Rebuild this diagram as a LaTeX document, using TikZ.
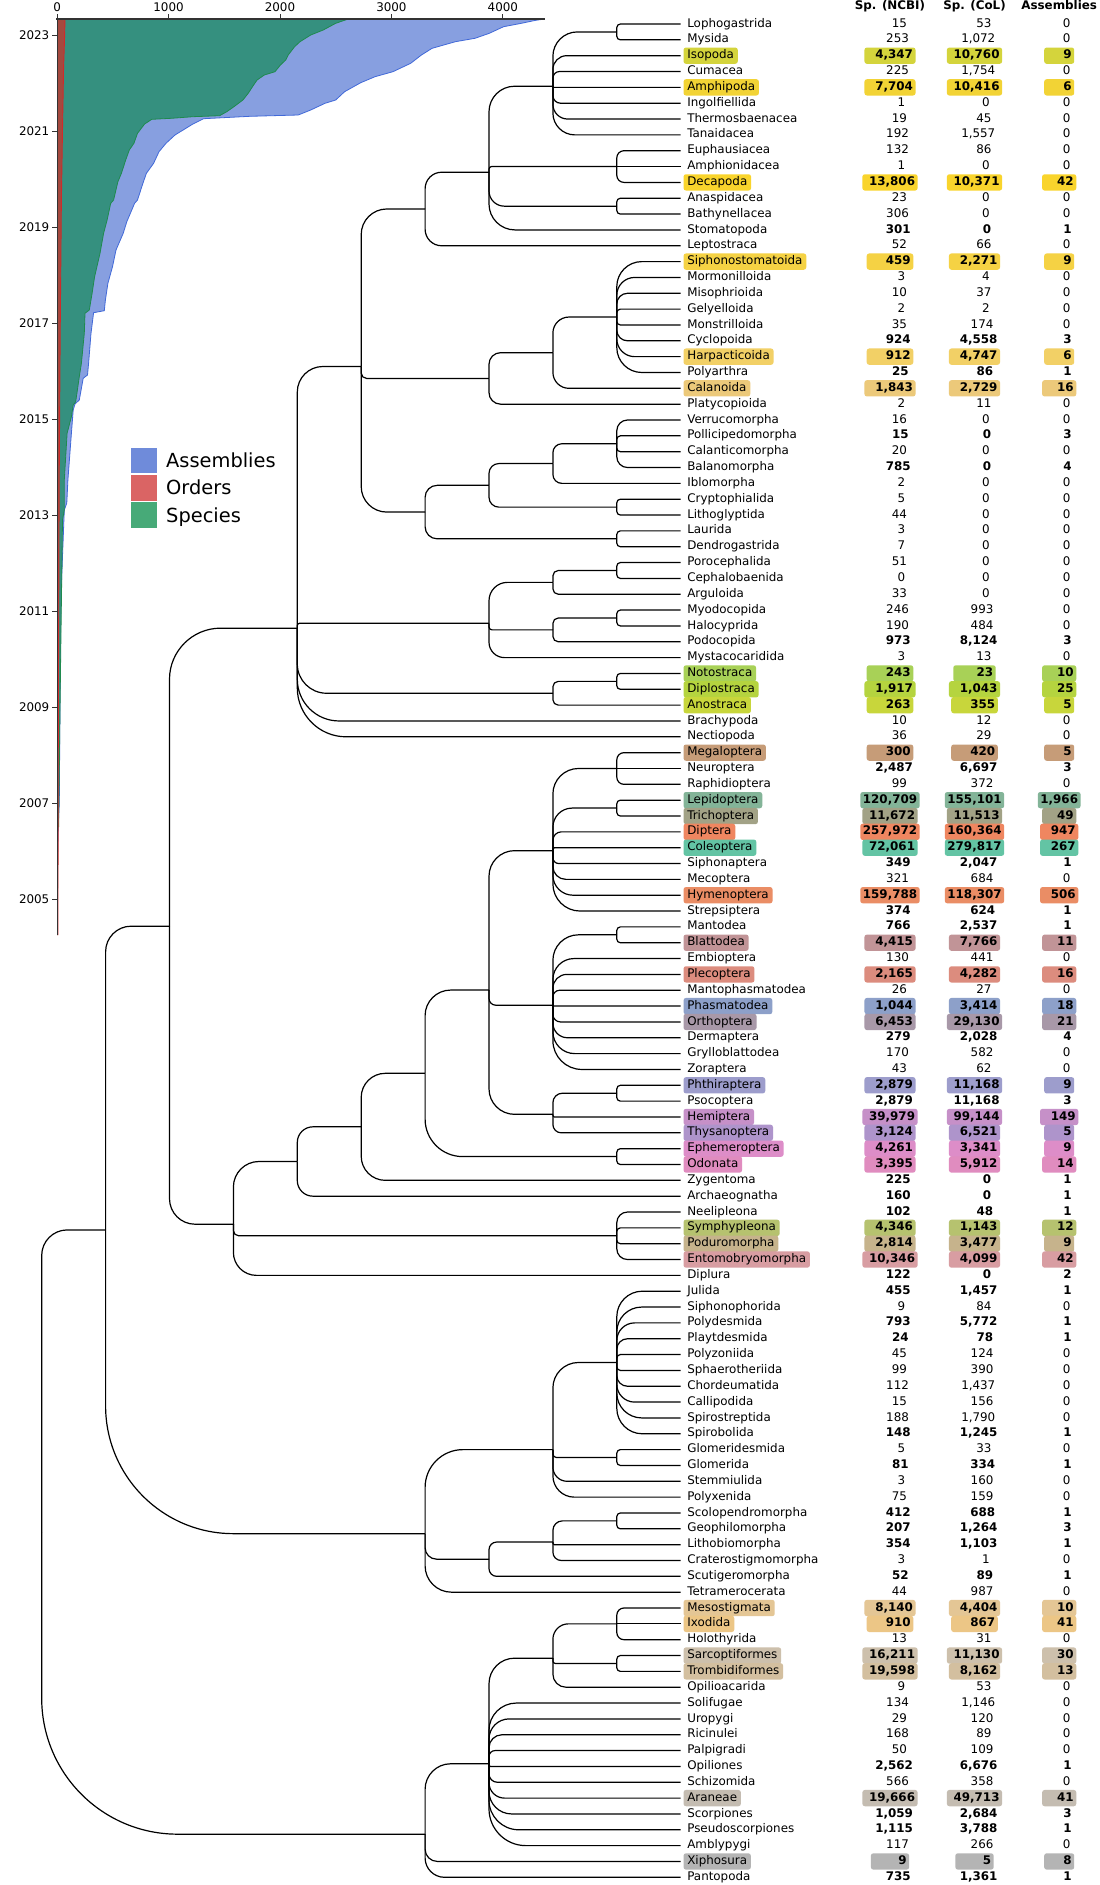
\documentclass[tikz,border=0pt]{standalone}
\usepackage{fontspec}
\setmainfont{DejaVu Sans}
\usetikzlibrary{calc}

\definecolor{blueA}{HTML}{879FE0}
\definecolor{blueE}{HTML}{4169D8}
\definecolor{greenA}{HTML}{35907F}
\definecolor{greenE}{HTML}{1F8A4E}
\definecolor{redA}{HTML}{A4493F}
\definecolor{redE}{HTML}{D02A2A}
\definecolor{legB}{HTML}{6F8BDA}
\definecolor{legR}{HTML}{DA6464}
\definecolor{legG}{HTML}{47AA78}
\definecolor{axc}{HTML}{333333}

\definecolor{cIso}{HTML}{D4D43C}
\definecolor{cAmph}{HTML}{F2D335}
\definecolor{cDeca}{HTML}{F9D42C}
\definecolor{cSiph}{HTML}{F5D244}
\definecolor{cHarp}{HTML}{F2D066}
\definecolor{cCal}{HTML}{ECC97A}
\definecolor{cNoto}{HTML}{A8D157}
\definecolor{cDipl}{HTML}{B5D43F}
\definecolor{cAnos}{HTML}{C8D63B}
\definecolor{cMega}{HTML}{C69C78}
\definecolor{cLepi}{HTML}{83B498}
\definecolor{cTric}{HTML}{A2A286}
\definecolor{cDipt}{HTML}{EF8660}
\definecolor{cCole}{HTML}{63C4A4}
\definecolor{cHyme}{HTML}{EA8D65}
\definecolor{cBlat}{HTML}{C19497}
\definecolor{cPlec}{HTML}{DC8C7E}
\definecolor{cPhas}{HTML}{8DA0C9}
\definecolor{cOrth}{HTML}{A898A8}
\definecolor{cPhth}{HTML}{9D9DCC}
\definecolor{cHemi}{HTML}{C690C8}
\definecolor{cThys}{HTML}{AE94CB}
\definecolor{cEphe}{HTML}{DD8DC8}
\definecolor{cOdon}{HTML}{E08CBF}
\definecolor{cSymp}{HTML}{B6C26F}
\definecolor{cPodu}{HTML}{C6B38C}
\definecolor{cEnto}{HTML}{D89DA2}
\definecolor{cMeso}{HTML}{E4C695}
\definecolor{cIxod}{HTML}{ECC686}
\definecolor{cSarc}{HTML}{CDC0AC}
\definecolor{cTrom}{HTML}{D3BF9F}
\definecolor{cAran}{HTML}{C4BCB1}
\definecolor{cXiph}{HTML}{B4B4B4}

\newcommand\tabfont{\fontsize{11.9pt}{14pt}\selectfont}
\newcommand\legfont{\fontsize{19.4pt}{23pt}\selectfont}

\newcount\chcnt
\def\countto#1{\chcnt=0 \countloop#1\relax}
\def\countloop#1{\ifx#1\relax\else\advance\chcnt by 1 \expandafter\countloop\fi}
\newcommand\padded[2]{\countto{#2}\chcnt=\numexpr#1-\chcnt\relax\loop\ifnum\chcnt>0 \ \advance\chcnt by -1 \repeat#2}

\tikzset{
  tree/.style={line width=1.2pt, black},
  nm/.style={anchor=west, inner xsep=3.8pt, inner ysep=2.15pt, text height=9.1pt, text depth=2.9pt, font=\tabfont},
  nb/.style={anchor=center, inner xsep=2.6pt, inner ysep=2.15pt, text height=9.1pt, text depth=2.9pt, font=\tabfont},
  hl/.style={fill=#1, rounded corners=2.5pt},
  tick/.style={line width=0.9pt, axc},
  ticklbl/.style={font=\tabfont, inner sep=0pt, text height=8.7pt, text depth=0pt},
  leglbl/.style={font=\legfont, anchor=west, inner sep=0pt, text height=14.2pt, text depth=0pt}
}

\newcommand\RY[1]{24+15.84*(#1-1)}
\newcommand\rp[5]{%
  \node[nm] (nm#1) at (683.3,{\RY{#1}}) {#2};
  \node[nb] (nc#1) at (890,{\RY{#1}}) {\padded{7}{#3}};
  \node[nb] (co#1) at (974.5,{\RY{#1}}) {\padded{7}{#4}};
  \node[nb] (as#1) at (1059.2,{\RY{#1}}) {\padded{5}{#5}};
  \coordinate (L#1) at (680.5,{\RY{#1}});}
\newcommand\rb[5]{%
  \node[nm] (nm#1) at (683.3,{\RY{#1}}) {#2};
  \node[nb,font=\tabfont\bfseries] (nc#1) at (890,{\RY{#1}}) {\padded{7}{#3}};
  \node[nb,font=\tabfont\bfseries] (co#1) at (974.5,{\RY{#1}}) {\padded{7}{#4}};
  \node[nb,font=\tabfont\bfseries] (as#1) at (1059.2,{\RY{#1}}) {\padded{5}{#5}};
  \coordinate (L#1) at (680.5,{\RY{#1}});}
\newcommand\rh[6]{%
  \node[nm,hl=#2] (nm#1) at (683.3,{\RY{#1}}) {#3};
  \node[nb,hl=#2,font=\tabfont\bfseries] (nc#1) at (890,{\RY{#1}}) {\padded{7}{#4}};
  \node[nb,hl=#2,font=\tabfont\bfseries] (co#1) at (974.5,{\RY{#1}}) {\padded{7}{#5}};
  \node[nb,hl=#2,font=\tabfont\bfseries] (as#1) at (1059.2,{\RY{#1}}) {\padded{5}{#6}};
  \coordinate (L#1) at (680.5,{\RY{#1}});}

\newcommand\inode[3]{\coordinate (#1) at ({41.7+63.9*#2},{\RY{#3}});}
\newcommand\edge[2]{\draw[tree] let \p1=(#1), \p2=(#2),
  \n1={min(0.45*abs(\y2-\y1),0.4*abs(\x2-\x1))} in
  [rounded corners=\n1] (\p1) |- (\p2);}
\newcommand\E[2]{\foreach \ch in {#2}{\edge{#1}{\ch}}}

\begin{document}
\begin{tikzpicture}[x=1pt,y=-1pt]
\useasboundingbox (0,0) rectangle (1100,1885);
\fill[white] (0,0) rectangle (1100,1885);

% ---------- chart ----------
\fill[blueA] (57.1,19) -- (544.6,19) -- (535.7,20.3) -- (521.4,23.3) -- (503.6,26.7) -- (489.3,33.3) -- (475,38.3) -- (455.4,41.7) -- (432.1,48.3) -- (421.4,55) -- (410.7,63.3) -- (392.9,71.7) -- (375,76.7) -- (360.7,82.7) -- (344.6,91.7) -- (335.7,100) -- (325,103.3) -- (310.7,110) -- (298.2,115) -- (250,116.3) -- (203.6,118.7) -- (192.9,124) -- (175,135) -- (166,143.3) -- (159,151.7) -- (153.6,163.3) -- (146.4,173.3) -- (142.9,183.3) -- (137.5,200) -- (134.6,203.3) -- (126.8,221.7) -- (123.2,233.3) -- (116,250) -- (112.5,266.7) -- (107.9,283.3) -- (105.4,300) -- (104.3,310.7) -- (93.6,312.7) -- (91,333.3) -- (88.6,363.3) -- (87.5,375) -- (83.2,378.3) -- (79.3,400) -- (75,404) -- (73.2,410) -- (71.4,433.3) -- (67.9,480) -- (66.8,503) -- (64.3,510) -- (60.7,603) -- (60,703) -- (59.3,803) -- (58.2,827) -- (57.4,860) -- (57.1,935) -- cycle;
\draw[blueE, line width=0.8pt] (544.6,19) -- (535.7,20.3) -- (521.4,23.3) -- (503.6,26.7) -- (489.3,33.3) -- (475,38.3) -- (455.4,41.7) -- (432.1,48.3) -- (421.4,55) -- (410.7,63.3) -- (392.9,71.7) -- (375,76.7) -- (360.7,82.7) -- (344.6,91.7) -- (335.7,100) -- (325,103.3) -- (310.7,110) -- (298.2,115) -- (250,116.3) -- (203.6,118.7) -- (192.9,124) -- (175,135) -- (166,143.3) -- (159,151.7) -- (153.6,163.3) -- (146.4,173.3) -- (142.9,183.3) -- (137.5,200) -- (134.6,203.3) -- (126.8,221.7) -- (123.2,233.3) -- (116,250) -- (112.5,266.7) -- (107.9,283.3) -- (105.4,300) -- (104.3,310.7) -- (93.6,312.7) -- (91,333.3) -- (88.6,363.3) -- (87.5,375) -- (83.2,378.3) -- (79.3,400) -- (75,404) -- (73.2,410) -- (71.4,433.3) -- (67.9,480) -- (66.8,503) -- (64.3,510) -- (60.7,603) -- (60,703) -- (59.3,803) -- (58.2,827) -- (57.4,860);

\fill[greenA] (57.1,19) -- (348.2,19) -- (335.7,23.3) -- (323.2,30) -- (310.7,35) -- (300,41.7) -- (294.6,46.7) -- (288.2,55) -- (285.7,60) -- (280.4,65) -- (275,71.7) -- (264.3,75) -- (257.1,80) -- (253.6,85) -- (248.2,93.3) -- (242.9,100) -- (233.9,106.7) -- (226.8,111.7) -- (219.6,115.7) -- (192.9,116.7) -- (171.4,118.3) -- (151.8,119.3) -- (144.6,124) -- (137.5,133.3) -- (133.9,143.3) -- (129.3,150) -- (125.7,160) -- (121.4,173.3) -- (117.9,181.7) -- (113.6,200) -- (110.7,203.3) -- (107.1,220) -- (103.6,233.3) -- (100,253.3) -- (94.6,276.7) -- (92.1,293.3) -- (89.3,310) -- (85,313.3) -- (84.3,333.3) -- (81.4,363.3) -- (79.3,376.7) -- (75.7,401.7) -- (73.2,405) -- (71.4,416.7) -- (67.1,433.3) -- (64.3,480) -- (64.3,510) -- (62.5,520) -- (60.5,670) -- (58.6,827) -- (57.1,840) -- cycle;
\draw[greenE, line width=0.8pt] (348.2,19) -- (335.7,23.3) -- (323.2,30) -- (310.7,35) -- (300,41.7) -- (294.6,46.7) -- (288.2,55) -- (285.7,60) -- (280.4,65) -- (275,71.7) -- (264.3,75) -- (257.1,80) -- (253.6,85) -- (248.2,93.3) -- (242.9,100) -- (233.9,106.7) -- (226.8,111.7) -- (219.6,115.7) -- (192.9,116.7) -- (171.4,118.3) -- (151.8,119.3) -- (144.6,124) -- (137.5,133.3) -- (133.9,143.3) -- (129.3,150) -- (125.7,160) -- (121.4,173.3) -- (117.9,181.7) -- (113.6,200) -- (110.7,203.3) -- (107.1,220) -- (103.6,233.3) -- (100,253.3) -- (94.6,276.7) -- (92.1,293.3) -- (89.3,310) -- (85,313.3) -- (84.3,333.3) -- (81.4,363.3) -- (79.3,376.7) -- (75.7,401.7) -- (73.2,405) -- (71.4,416.7) -- (67.1,433.3) -- (64.3,480) -- (64.3,510) -- (62.5,520) -- (60.5,670) -- (58.6,827);

\fill[redA] (57.1,19) -- (65,19) -- (64.5,40) -- (63.6,67) -- (62.5,130) -- (61.4,200) -- (60.2,333) -- (59.2,480) -- (58.4,700) -- (57.9,935) -- (57.1,935) -- cycle;
\draw[redE, line width=0.9pt] (65,19) -- (64.5,40) -- (63.6,67) -- (62.5,130) -- (61.4,200) -- (60.2,333) -- (59.2,480) -- (58.4,700) -- (57.9,935);

% axes
\draw[axc, line width=1pt] (57.1,19) -- (57.1,935);
\draw[axc, line width=1.6pt] (56.3,19) -- (545,19);
\foreach \v in {0,1000,2000,3000,4000}{
  \draw[tick] ({57.1+0.11143*\v},19) -- ({57.1+0.11143*\v},14);
  \node[ticklbl, anchor=base] (xt\v) at ({57.1+0.11143*\v},11.6) {\v};
}
\foreach \yr in {2005,2007,...,2023}{
  \draw[tick] (57.1,{35+(2023-\yr)*48}) -- (52,{35+(2023-\yr)*48});
  \node[ticklbl, anchor=east] (yt\yr) at (49.5,{35+(2023-\yr)*48}) {\yr};
}

% legend
\fill[legB] (131.4,447.7) rectangle (157.1,473.3);
\fill[legR] (131.4,475) rectangle (157.1,500.7);
\fill[legG] (131.4,502.3) rectangle (157.1,528);
\node[leglbl] (lgA) at (166,460.5) {Assemblies};
\node[leglbl] (lgO) at (166,487.8) {Orders};
\node[leglbl] (lgS) at (166,515.2) {Species};

% ---------- headers ----------
\node[font=\tabfont\bfseries, anchor=base, inner sep=0pt] (hN) at (890,9.6) {Sp. (NCBI)};
\node[font=\tabfont\bfseries, anchor=base, inner sep=0pt] (hC) at (974.5,9.6) {Sp. (CoL)};
\node[font=\tabfont\bfseries, anchor=base, inner sep=0pt] (hA) at (1059.2,9.6) {Assemblies};

% ---------- table rows ----------
\rp{1}{Lophogastrida}{15}{53}{0}
\rp{2}{Mysida}{253}{1,072}{0}
\rh{3}{cIso}{Isopoda}{4,347}{10,760}{9}
\rp{4}{Cumacea}{225}{1,754}{0}
\rh{5}{cAmph}{Amphipoda}{7,704}{10,416}{6}
\rp{6}{Ingolfiellida}{1}{0}{0}
\rp{7}{Thermosbaenacea}{19}{45}{0}
\rp{8}{Tanaidacea}{192}{1,557}{0}
\rp{9}{Euphausiacea}{132}{86}{0}
\rp{10}{Amphionidacea}{1}{0}{0}
\rh{11}{cDeca}{Decapoda}{13,806}{10,371}{42}
\rp{12}{Anaspidacea}{23}{0}{0}
\rp{13}{Bathynellacea}{306}{0}{0}
\rb{14}{Stomatopoda}{301}{0}{1}
\rp{15}{Leptostraca}{52}{66}{0}
\rh{16}{cSiph}{Siphonostomatoida}{459}{2,271}{9}
\rp{17}{Mormonilloida}{3}{4}{0}
\rp{18}{Misophrioida}{10}{37}{0}
\rp{19}{Gelyelloida}{2}{2}{0}
\rp{20}{Monstrilloida}{35}{174}{0}
\rb{21}{Cyclopoida}{924}{4,558}{3}
\rh{22}{cHarp}{Harpacticoida}{912}{4,747}{6}
\rb{23}{Polyarthra}{25}{86}{1}
\rh{24}{cCal}{Calanoida}{1,843}{2,729}{16}
\rp{25}{Platycopioida}{2}{11}{0}
\rp{26}{Verrucomorpha}{16}{0}{0}
\rb{27}{Pollicipedomorpha}{15}{0}{3}
\rp{28}{Calanticomorpha}{20}{0}{0}
\rb{29}{Balanomorpha}{785}{0}{4}
\rp{30}{Iblomorpha}{2}{0}{0}
\rp{31}{Cryptophialida}{5}{0}{0}
\rp{32}{Lithoglyptida}{44}{0}{0}
\rp{33}{Laurida}{3}{0}{0}
\rp{34}{Dendrogastrida}{7}{0}{0}
\rp{35}{Porocephalida}{51}{0}{0}
\rp{36}{Cephalobaenida}{0}{0}{0}
\rp{37}{Arguloida}{33}{0}{0}
\rp{38}{Myodocopida}{246}{993}{0}
\rp{39}{Halocyprida}{190}{484}{0}
\rb{40}{Podocopida}{973}{8,124}{3}
\rp{41}{Mystacocaridida}{3}{13}{0}
\rh{42}{cNoto}{Notostraca}{243}{23}{10}
\rh{43}{cDipl}{Diplostraca}{1,917}{1,043}{25}
\rh{44}{cAnos}{Anostraca}{263}{355}{5}
\rp{45}{Brachypoda}{10}{12}{0}
\rp{46}{Nectiopoda}{36}{29}{0}
\rh{47}{cMega}{Megaloptera}{300}{420}{5}
\rb{48}{Neuroptera}{2,487}{6,697}{3}
\rp{49}{Raphidioptera}{99}{372}{0}
\rh{50}{cLepi}{Lepidoptera}{120,709}{155,101}{1,966}
\rh{51}{cTric}{Trichoptera}{11,672}{11,513}{49}
\rh{52}{cDipt}{Diptera}{257,972}{160,364}{947}
\rh{53}{cCole}{Coleoptera}{72,061}{279,817}{267}
\rb{54}{Siphonaptera}{349}{2,047}{1}
\rp{55}{Mecoptera}{321}{684}{0}
\rh{56}{cHyme}{Hymenoptera}{159,788}{118,307}{506}
\rb{57}{Strepsiptera}{374}{624}{1}
\rb{58}{Mantodea}{766}{2,537}{1}
\rh{59}{cBlat}{Blattodea}{4,415}{7,766}{11}
\rp{60}{Embioptera}{130}{441}{0}
\rh{61}{cPlec}{Plecoptera}{2,165}{4,282}{16}
\rp{62}{Mantophasmatodea}{26}{27}{0}
\rh{63}{cPhas}{Phasmatodea}{1,044}{3,414}{18}
\rh{64}{cOrth}{Orthoptera}{6,453}{29,130}{21}
\rb{65}{Dermaptera}{279}{2,028}{4}
\rp{66}{Grylloblattodea}{170}{582}{0}
\rp{67}{Zoraptera}{43}{62}{0}
\rh{68}{cPhth}{Phthiraptera}{2,879}{11,168}{9}
\rb{69}{Psocoptera}{2,879}{11,168}{3}
\rh{70}{cHemi}{Hemiptera}{39,979}{99,144}{149}
\rh{71}{cThys}{Thysanoptera}{3,124}{6,521}{5}
\rh{72}{cEphe}{Ephemeroptera}{4,261}{3,341}{9}
\rh{73}{cOdon}{Odonata}{3,395}{5,912}{14}
\rb{74}{Zygentoma}{225}{0}{1}
\rb{75}{Archaeognatha}{160}{0}{1}
\rb{76}{Neelipleona}{102}{48}{1}
\rh{77}{cSymp}{Symphypleona}{4,346}{1,143}{12}
\rh{78}{cPodu}{Poduromorpha}{2,814}{3,477}{9}
\rh{79}{cEnto}{Entomobryomorpha}{10,346}{4,099}{42}
\rb{80}{Diplura}{122}{0}{2}
\rb{81}{Julida}{455}{1,457}{1}
\rp{82}{Siphonophorida}{9}{84}{0}
\rb{83}{Polydesmida}{793}{5,772}{1}
\rb{84}{Playtdesmida}{24}{78}{1}
\rp{85}{Polyzoniida}{45}{124}{0}
\rp{86}{Sphaerotheriida}{99}{390}{0}
\rp{87}{Chordeumatida}{112}{1,437}{0}
\rp{88}{Callipodida}{15}{156}{0}
\rp{89}{Spirostreptida}{188}{1,790}{0}
\rb{90}{Spirobolida}{148}{1,245}{1}
\rp{91}{Glomeridesmida}{5}{33}{0}
\rb{92}{Glomerida}{81}{334}{1}
\rp{93}{Stemmiulida}{3}{160}{0}
\rp{94}{Polyxenida}{75}{159}{0}
\rb{95}{Scolopendromorpha}{412}{688}{1}
\rb{96}{Geophilomorpha}{207}{1,264}{3}
\rb{97}{Lithobiomorpha}{354}{1,103}{1}
\rp{98}{Craterostigmomorpha}{3}{1}{0}
\rb{99}{Scutigeromorpha}{52}{89}{1}
\rp{100}{Tetramerocerata}{44}{987}{0}
\rh{101}{cMeso}{Mesostigmata}{8,140}{4,404}{10}
\rh{102}{cIxod}{Ixodida}{910}{867}{41}
\rp{103}{Holothyrida}{13}{31}{0}
\rh{104}{cSarc}{Sarcoptiformes}{16,211}{11,130}{30}
\rh{105}{cTrom}{Trombidiformes}{19,598}{8,162}{13}
\rp{106}{Opilioacarida}{9}{53}{0}
\rp{107}{Solifugae}{134}{1,146}{0}
\rp{108}{Uropygi}{29}{120}{0}
\rp{109}{Ricinulei}{168}{89}{0}
\rp{110}{Palpigradi}{50}{109}{0}
\rb{111}{Opiliones}{2,562}{6,676}{1}
\rp{112}{Schizomida}{566}{358}{0}
\rh{113}{cAran}{Araneae}{19,666}{49,713}{41}
\rb{114}{Scorpiones}{1,059}{2,684}{3}
\rb{115}{Pseudoscorpiones}{1,115}{3,788}{1}
\rp{116}{Amblypygi}{117}{266}{0}
\rh{117}{cXiph}{Xiphosura}{9}{5}{8}
\rb{118}{Pantopoda}{735}{1,361}{1}

% ---------- internal tree nodes ----------
\inode{Root}{0}{96.204206}
\inode{Mandib}{1}{77.130633}
\inode{Pancr}{2}{57.955711}
\inode{Pan}{4}{39.141071}
\inode{Multi}{5}{22.622024}
\inode{Malac}{6}{12.678571}
\inode{Eumal}{7}{10.357143}
\inode{Pera}{8}{4.928571}
\inode{LM}{9}{1.5}
\inode{EAD}{9}{10}
\inode{AB}{9}{12.5}
\inode{Cope}{7}{23.375}
\inode{Xcop}{8}{21.75}
\inode{Ycop}{9}{19.5}
\inode{ThecA}{6}{31.8125}
\inode{ThecB}{7}{30.125}
\inode{Thor}{8}{28.75}
\inode{Cirr}{9}{27.5}
\inode{CL}{9}{31.5}
\inode{LD}{9}{33.5}
\inode{Oligo}{7}{38.833333}
\inode{Pent}{8}{36.25}
\inode{PC}{9}{35.5}
\inode{Ostra}{8}{39.25}
\inode{MH}{9}{38.5}
\inode{Branch}{8}{43.25}
\inode{ND}{9}{42.5}
\inode{Hexa}{3}{76.770351}
\inode{Insect}{4}{72.811053}
\inode{Dicon}{5}{70.622106}
\inode{Ptery}{6}{67.244213}
\inode{Neop}{7}{61.988426}
\inode{Holo}{8}{53.1875}
\inode{Neur}{9}{48}
\inode{Amph}{9}{50.5}
\inode{Polyn}{8}{62.944444}
\inode{MB}{9}{58.5}
\inode{Paran}{8}{69.833333}
\inode{PP}{9}{68.5}
\inode{EO}{9}{72.5}
\inode{Coll}{9}{77.5}
\inode{Myria}{6}{96.305556}
\inode{Diplo}{8}{91}
\inode{Helm}{9}{85.5}
\inode{Glom}{9}{91.5}
\inode{Chilo}{7}{97.916667}
\inode{Pleur}{8}{96.833333}
\inode{ScGe}{9}{95.5}
\inode{Chelic}{6}{115.277778}
\inode{Arach}{7}{110.833333}
\inode{Acari}{8}{104.166667}
\inode{Paras}{9}{102}
\inode{Acarif}{9}{104.5}

% ---------- tree edges ----------
\E{Root}{Mandib,Chelic}
\E{Mandib}{Pancr,Myria}
\E{Pancr}{Pan,Hexa}
\E{Pan}{Multi,Oligo,Branch,L45,L46}
\E{Multi}{Malac,Cope,ThecA}
\E{Malac}{Eumal,L15}
\E{Eumal}{Pera,EAD,AB,L14}
\E{Pera}{LM,L3,L4,L5,L6,L7,L8}
\E{LM}{L1,L2}
\E{EAD}{L9,L10,L11}
\E{AB}{L12,L13}
\E{Cope}{Xcop,L25}
\E{Xcop}{Ycop,L24}
\E{Ycop}{L16,L17,L18,L19,L20,L21,L22,L23}
\E{ThecA}{ThecB,LD}
\E{ThecB}{Thor,CL}
\E{Thor}{Cirr,L30}
\E{Cirr}{L26,L27,L28,L29}
\E{CL}{L31,L32}
\E{LD}{L33,L34}
\E{Oligo}{Pent,Ostra,L41}
\E{Pent}{PC,L37}
\E{PC}{L35,L36}
\E{Ostra}{MH,L40}
\E{MH}{L38,L39}
\E{Branch}{ND,L44}
\E{ND}{L42,L43}
\E{Hexa}{Insect,Coll,L80}
\E{Insect}{Dicon,L75}
\E{Dicon}{Ptery,L74}
\E{Ptery}{Neop,EO}
\E{Neop}{Holo,Polyn,Paran}
\E{Holo}{Neur,Amph,L52,L53,L54,L55,L56,L57}
\E{Neur}{L47,L48,L49}
\E{Amph}{L50,L51}
\E{Polyn}{MB,L60,L61,L62,L63,L64,L65,L66,L67}
\E{MB}{L58,L59}
\E{Paran}{PP,L70,L71}
\E{PP}{L68,L69}
\E{EO}{L72,L73}
\E{Coll}{L76,L77,L78,L79}
\E{Myria}{Diplo,Chilo,L100}
\E{Diplo}{Helm,Glom,L93,L94}
\E{Helm}{L81,L82,L83,L84,L85,L86,L87,L88,L89,L90}
\E{Glom}{L91,L92}
\E{Chilo}{Pleur,L99}
\E{Pleur}{ScGe,L97,L98}
\E{ScGe}{L95,L96}
\E{Chelic}{Arach,L117,L118}
\E{Arach}{Acari,L107,L108,L109,L110,L111,L112,L113,L114,L115,L116}
\E{Acari}{Paras,Acarif,L106}
\E{Paras}{L101,L102,L103}
\E{Acarif}{L104,L105}
\end{tikzpicture}
\end{document}
